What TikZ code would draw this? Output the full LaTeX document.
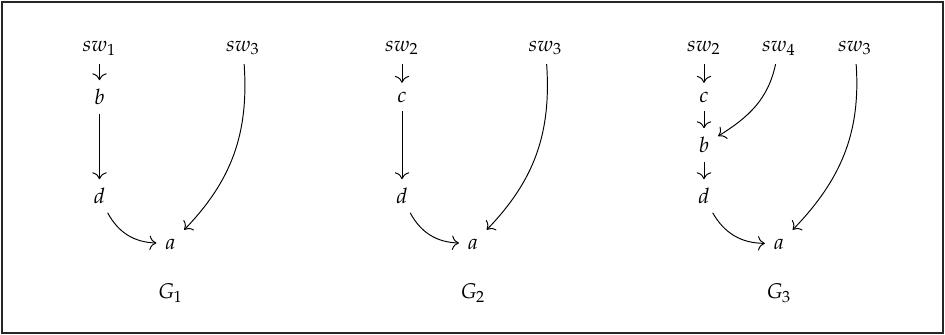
\documentclass[tikz,border=0pt]{standalone}
\usepackage{mathpazo}
\usetikzlibrary{arrows.meta,positioning}
\tikzset{
  vx/.style={inner sep=4pt},
  ar/.style={-{Computer Modern Rightarrow[scale=1.25]},line width=0.45pt},
  frm/.style={line width=0.6pt,draw=black!85},
}
\begin{document}
\begin{tikzpicture}[x=0.47pt,y=0.47pt]
  \useasboundingbox (0,0) rectangle (945,335);
  \draw[frm] (2,2) rectangle (943,333);
  % G1
  \node[vx] (s1) at (99.5,287) {$sw_1$};
  \node[vx] (s3) at (243,287) {$sw_3$};
  \node[vx] (b) at (99.5,238) {$b$};
  \node[vx] (d) at (99.5,139) {$d$};
  \node[vx] (a) at (170.5,91) {$a$};
  \node (g1) at (170.5,42) {$G_1$};
  \draw[ar] (s1)--(b); \draw[ar] (b)--(d);
  \draw[ar] (d) to[bend right=30] (a);
  \draw[ar] (s3) to[out=-86,in=46] (a);
  % G2
  \node[vx] (t2) at (402,287) {$sw_2$};
  \node[vx] (t3) at (545.5,287) {$sw_3$};
  \node[vx] (c') at (402,238) {$c$};
  \node[vx] (d') at (402,139) {$d$};
  \node[vx] (a') at (473,91) {$a$};
  \node (g2) at (473,42) {$G_2$};
  \draw[ar] (t2)--(c'); \draw[ar] (c')--(d');
  \draw[ar] (d') to[bend right=30] (a');
  \draw[ar] (t3) to[out=-86,in=46] (a');
  % G3
  \node[vx] (u2) at (704,287) {$sw_2$};
  \node[vx] (u4) at (779,287) {$sw_4$};
  \node[vx] (u3) at (855,287) {$sw_3$};
  \node[vx] (c'') at (704,238) {$c$};
  \node[vx] (b'') at (704,190) {$b$};
  \node[vx] (d'') at (704,139) {$d$};
  \node[vx] (a'') at (779,91) {$a$};
  \node (g3) at (779,42) {$G_3$};
  \draw[ar] (u2)--(c''); \draw[ar] (c'')--(b''); \draw[ar] (b'')--(d'');
  \draw[ar] (u4) to[out=-102,in=32] (b'');
  \draw[ar] (d'') to[bend right=30] (a'');
  \draw[ar] (u3) to[out=-86,in=46] (a'');
\end{tikzpicture}
\end{document}
